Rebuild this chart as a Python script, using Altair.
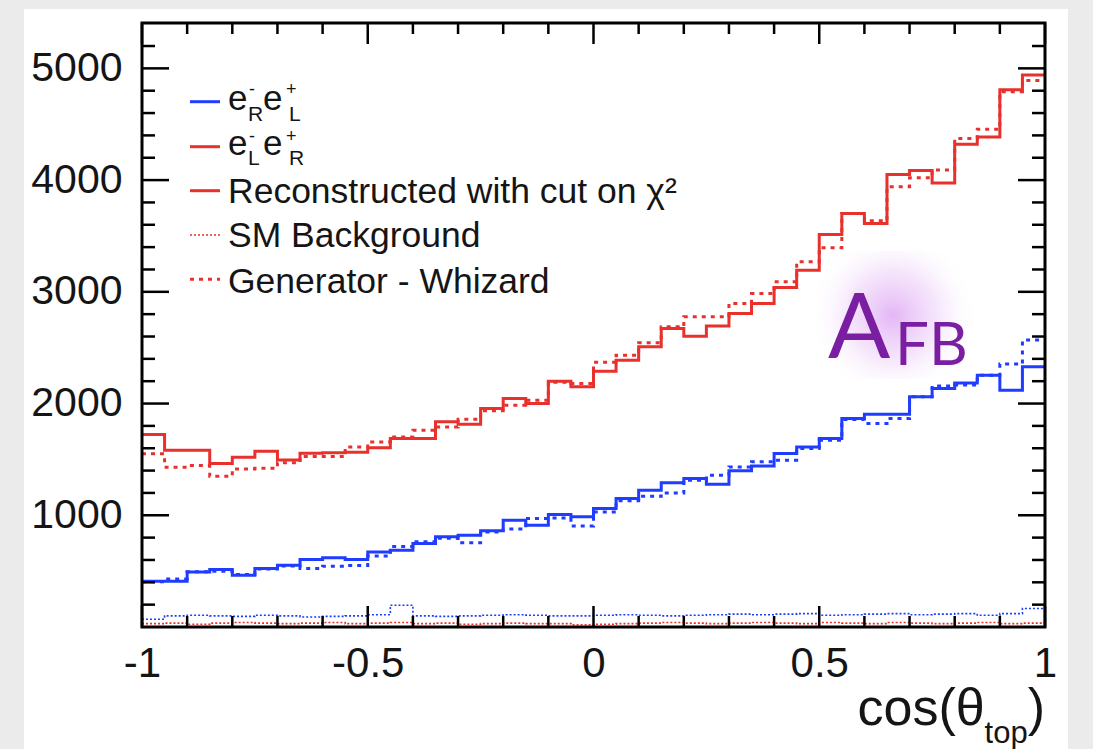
import altair as alt
import pandas as pd
import numpy as np

# ---------------- data (40 bins in cos(theta_top), width 0.05) ----------------
bin_edges = np.round(np.linspace(-1, 1, 41), 3).tolist()

red_reco = [1723, 1583, 1583, 1464, 1520, 1574, 1495, 1555, 1560, 1565,
            1604, 1688, 1688, 1836, 1815, 1956, 2046, 2001, 2200, 2150,
            2290, 2388, 2508, 2672, 2603, 2693, 2806, 2896, 3039, 3194,
            3512, 3700, 3612, 4050, 4085, 3975, 4320, 4385, 4808, 4940]
red_gen = [1550, 1430, 1445, 1350, 1415, 1420, 1470, 1525, 1525, 1610,
           1655, 1700, 1760, 1790, 1860, 1935, 1985, 2030, 2190, 2180,
           2370, 2433, 2544, 2687, 2776, 2776, 2896, 2985, 3090, 3269,
           3395, 3702, 3635, 3940, 4020, 4090, 4373, 4455, 4790, 4892]
blue_reco = [410, 410, 493, 515, 464, 523, 553, 604, 619, 604,
             672, 688, 747, 807, 822, 861, 956, 911, 1007, 986,
             1061, 1150, 1225, 1290, 1329, 1278, 1398, 1440, 1553, 1612,
             1687, 1866, 1905, 1905, 2060, 2135, 2185, 2254, 2120, 2329]
blue_gen = [405, 430, 495, 500, 470, 520, 545, 523, 544, 550,
            635, 720, 762, 795, 754, 850, 878, 971, 975, 905,
            1030, 1130, 1170, 1200, 1314, 1359, 1433, 1478, 1493, 1598,
            1672, 1857, 1822, 1866, 2060, 2156, 2165, 2254, 2353, 2568]
blue_bg = [70, 100, 105, 100, 95, 105, 100, 90, 95, 100,
           110, 195, 100, 95, 100, 105, 110, 105, 100, 100,
           105, 110, 105, 100, 105, 110, 115, 110, 115, 120,
           105, 110, 115, 120, 110, 115, 120, 105, 120, 165]
red_bg = [30, 35, 25, 35, 40, 35, 30, 35, 40, 30,
          35, 40, 30, 35, 25, 30, 35, 30, 30, 20,
          25, 30, 35, 40, 35, 30, 35, 40, 35, 30,
          40, 35, 30, 40, 35, 30, 35, 40, 30, 35]

x_major_ticks = [-1, -0.5, 0, 0.5, 1]
x_minor_ticks = [-0.9, -0.8, -0.7, -0.6, -0.4, -0.3, -0.2, -0.1,
                 0.1, 0.2, 0.3, 0.4, 0.6, 0.7, 0.8, 0.9]
y_major_ticks = [1000, 2000, 3000, 4000, 5000]
y_minor_ticks = [200, 400, 600, 800, 1200, 1400, 1600, 1800, 2200, 2400,
                 2600, 2800, 3200, 3400, 3600, 3800, 4200, 4400, 4600, 4800, 5200]

legend_labels = ["Reconstructed with cut on \u03c7\u00b2", "SM Background", "Generator - Whizard"]

# ---------------- layout ----------------
W, H = 903, 604
YMAX = 5406
RED = "#e8302c"
BLUE = "#1f3cff"
TXT = "#151515"
FONT = "Liberation Sans"

xscale = alt.Scale(domain=[-1, 1], nice=False, zero=False)
yscale = alt.Scale(domain=[0, YMAX], nice=False, zero=False)
one = pd.DataFrame({"a": [0]})

xaxis = alt.Axis(values=x_major_ticks, format="~g", ticks=False, tickSize=0, domain=False,
                 grid=False, labelFontSize=42, labelFont=FONT, labelColor=TXT, labelPadding=16,
                 labelFlush=False, labelOverlap=False, zindex=2, title=None,
                 labelExpr="replace(datum.label, '\u2212', '-')")
yaxis = alt.Axis(values=y_major_ticks, format="d", ticks=False, tickSize=0, domain=False,
                 grid=False, labelFontSize=41, labelFont=FONT, labelColor=TXT,
                 labelPadding=20, labelOverlap=False, zindex=2, title=None)


def X(field):
    return alt.X(field, scale=xscale, axis=xaxis)


def Y(field):
    return alt.Y(field, scale=yscale, axis=yaxis)


def steps(vals):
    return pd.DataFrame({"x": bin_edges, "y": list(vals) + [vals[-1]]})


def hist(vals, color, width, dash=None):
    kw = dict(color=color, strokeWidth=width, interpolate="step-after", clip=True)
    if dash:
        kw["strokeDash"] = dash
    return alt.Chart(steps(vals)).mark_line(**kw).encode(x=X("x:Q"), y=Y("y:Q"))


def txt(s, x, y, size, color=TXT, align="left", baseline="alphabetic", font=FONT):
    return alt.Chart(one).mark_text(text=s, fontSize=size, font=font, color=color,
                                    align=align, baseline=baseline).encode(
        x=alt.value(x), y=alt.value(y))


def seg(x1, x2, y, color, width, dash=None):
    kw = dict(color=color, strokeWidth=width)
    if dash:
        kw["strokeDash"] = dash
    return alt.Chart(one).mark_rule(**kw).encode(x=alt.value(x1), x2=alt.value(x2), y=alt.value(y))


def yticks(vals, length):
    d = pd.DataFrame({"y": vals})
    left = alt.Chart(d).mark_rule(color="black", strokeWidth=2.5).encode(
        y=Y("y:Q"), x=alt.value(0), x2=alt.value(length))
    right = alt.Chart(d).mark_rule(color="black", strokeWidth=2.5).encode(
        y=Y("y:Q"), x=alt.value(W - length), x2=alt.value(W))
    return [left, right]


def xticks(vals, length):
    d = pd.DataFrame({"x": vals})
    bottom = alt.Chart(d).mark_rule(color="black", strokeWidth=2.5).encode(
        x=X("x:Q"), y=alt.value(H), y2=alt.value(H - length))
    top = alt.Chart(d).mark_rule(color="black", strokeWidth=2.5).encode(
        x=X("x:Q"), y=alt.value(0), y2=alt.value(length))
    return [bottom, top]


layers = []
# white slide panel on grey page
layers.append(alt.Chart(one).mark_rect(color="white").encode(
    x=alt.value(-118), x2=alt.value(926), y=alt.value(-14), y2=alt.value(726)))

# glow behind A_FB
glow = alt.RadialGradient(
    gradient="radial",
    stops=[alt.GradientStop(color="rgba(226,178,245,0.95)", offset=0),
           alt.GradientStop(color="rgba(236,205,248,0.55)", offset=0.5),
           alt.GradientStop(color="rgba(255,255,255,0)", offset=1)],
    x1=0.5, y1=0.5, r1=0, x2=0.5, y2=0.5, r2=0.5)
layers.append(alt.Chart(one).mark_rect(color=glow).encode(
    x=alt.value(666), x2=alt.value(836), y=alt.value(228), y2=alt.value(356)))

# histograms
layers.append(hist(blue_bg, BLUE, 1.6, [2, 2]))
layers.append(hist(red_bg, RED, 1.6, [2, 2]))
layers.append(hist(red_gen, RED, 3, [4, 5]))
layers.append(hist(blue_gen, BLUE, 3, [4, 5]))
layers.append(hist(red_reco, RED, 3))
layers.append(hist(blue_reco, BLUE, 3))

# frame ticks
layers += yticks(y_major_ticks, 27)
layers += yticks(y_minor_ticks, 13)
layers += xticks(x_major_ticks, 21)
layers += xticks(x_minor_ticks, 11)

# frame
layers.append(alt.Chart(one).mark_rect(filled=False, stroke="black", strokeWidth=3).encode(
    x=alt.value(0), x2=alt.value(W), y=alt.value(0), y2=alt.value(H)))

# legend
LX1, LX2, TX = 48, 78, 86
layers.append(seg(LX1, LX2, 78.7, BLUE, 3))
layers.append(seg(LX1, LX2, 123.7, RED, 3))
layers.append(seg(LX1, LX2, 167.7, RED, 3))
layers.append(seg(LX1, LX2, 212, RED, 1.6, [2, 2]))
layers.append(seg(LX1, LX2, 256.3, RED, 3, [4, 5]))

# row 1: e^-_R e^+_L
layers.append(txt("e", TX, 87, 35))
layers.append(txt("-", 107, 67, 18, baseline="middle"))
layers.append(txt("R", 106, 98, 21))
layers.append(txt("e", 121, 87, 35))
layers.append(txt("+", 144, 67, 18, baseline="middle"))
layers.append(txt("L", 147, 98, 21))
# row 2: e^-_L e^+_R
layers.append(txt("e", TX, 132, 35))
layers.append(txt("-", 107, 114, 18, baseline="middle"))
layers.append(txt("L", 106, 142, 21))
layers.append(txt("e", 121, 132, 35))
layers.append(txt("+", 144, 114, 18, baseline="middle"))
layers.append(txt("R", 147, 142, 21))
# rows 3-5
layers.append(txt(legend_labels[0], TX, 179.5, 35.5))
layers.append(txt(legend_labels[1], TX, 224, 35.5))
layers.append(txt(legend_labels[2], TX, 270, 35.5))

# x-axis title cos(theta_top)
layers.append(txt(")", W, 702, 52, align="right"))
layers.append(txt("top", W - 17.3, 720, 31, align="right"))
layers.append(txt("cos(\u03b8", W - 17.3 - 43, 702, 52, align="right"))

# A_FB annotation
PURPLE = "#7a1fa2"
layers.append(txt("A", 686, 335, 92, color=PURPLE, font="Lato"))
layers.append(txt("FB", 753, 342, 60, color=PURPLE, font="Lato"))

chart = alt.layer(*layers).properties(
    width=W, height=H,
    autosize=alt.AutoSizeParams(type="none"),
    padding={"left": 142, "top": 23, "right": 48, "bottom": 122},
    background="#ebebeb",
).configure_view(stroke=None)

chart.save("out.html", embed_options={"renderer": "svg", "actions": False})
